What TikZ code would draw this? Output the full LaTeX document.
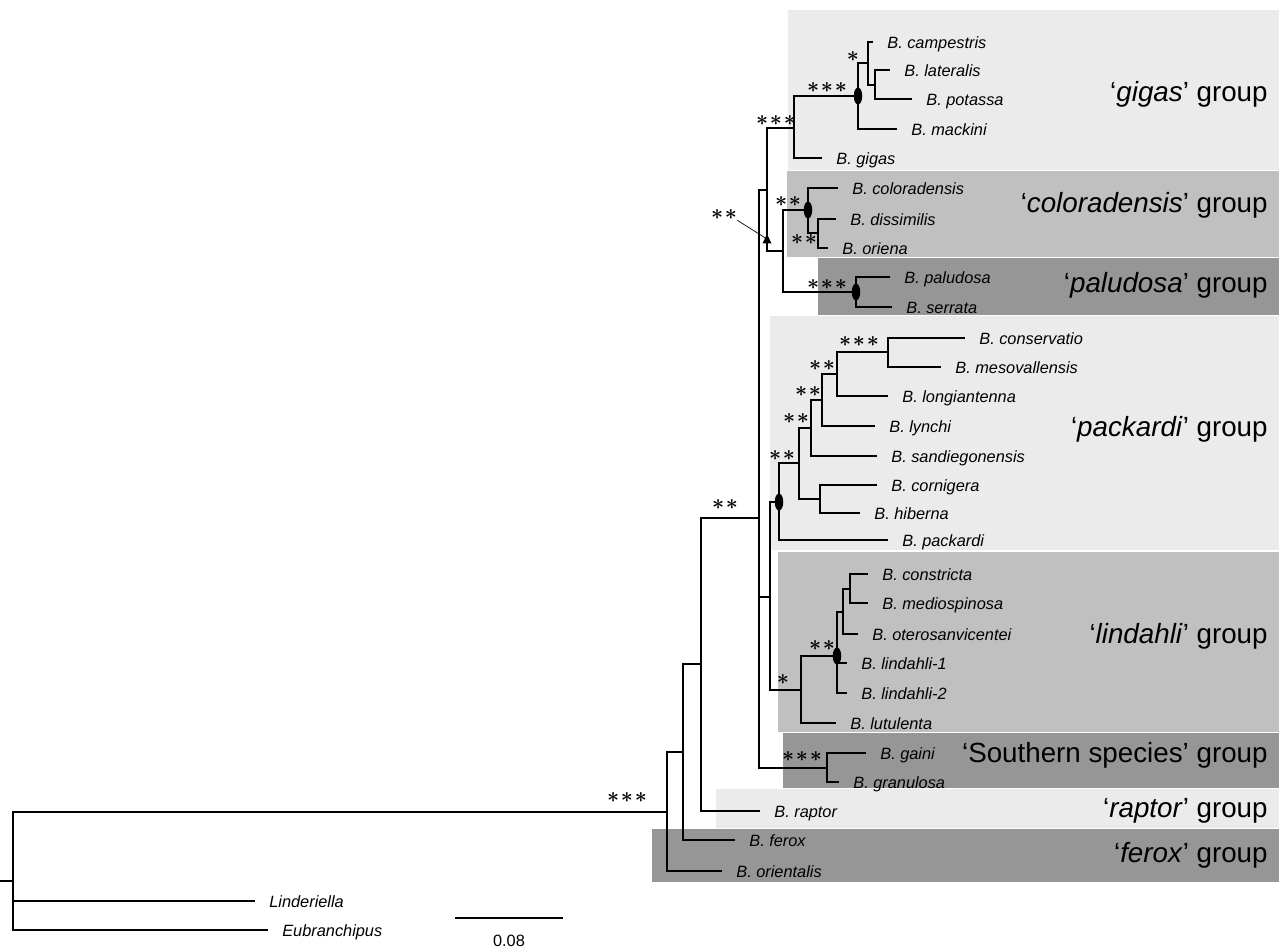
\documentclass[tikz,border=0pt]{standalone}
\usepackage{amsmath}
\usepackage{fontspec}
\setmainfont{Liberation Sans}
\usepackage{tikz}
\usetikzlibrary{shapes.geometric}
\definecolor{grpA}{HTML}{EBEBEB}
\definecolor{grpB}{HTML}{C0C0C0}
\definecolor{grpC}{HTML}{969696}
\newcommand{\bast}{{\boldsymbol{\ast}}}
\newcommand{\sigstar}[1]{\ifcase#1\or$\bast$\or$\bast\mkern1.5mu\bast$\or$\bast\mkern1.5mu\bast\mkern1.5mu\bast$\fi}
\tikzset{
    tax/.style={anchor=west, inner xsep=0.28cm, inner ysep=0pt,
      font=\fontsize{9.3}{10}\selectfont\itshape, text height=0.9em, text depth=0.18em},
    grp/.style={anchor=base east, inner sep=0pt, font=\fontsize{15.8}{19}\selectfont},
    sup/.style={inner sep=0pt, font=\fontsize{11.5}{12}\selectfont},
    dot/.style={ellipse, fill=black, inner sep=0pt, minimum width=0.17cm, minimum height=0.34cm},
    br/.style={line width=0.7pt},
}

\begin{document}
\begin{tikzpicture}[x=0.02cm, y=-0.02cm]
    \useasboundingbox (0,0) rectangle (1279,949);
    % group backgrounds
    \fill[grpA] (788,10) rectangle (1279,170);
    \fill[grpB] (787,171) rectangle (1279,257);
    \fill[grpC] (818,258) rectangle (1279,315);
    \fill[grpA] (770,316) rectangle (1279,550);
    \fill[grpB] (778,552) rectangle (1279,732);
    \fill[grpC] (783,733) rectangle (1279,788);
    \fill[grpA] (716,789) rectangle (1279,828);
    \fill[grpC] (652,829) rectangle (1279,882);

    \node[grp] (gGig) at (1268,102) {‘\textit{gigas}’ group};
    \node[grp] (gCol) at (1268,213) {‘\textit{coloradensis}’ group};
    \node[grp] (gPal) at (1268,293) {‘\textit{paludosa}’ group};
    \node[grp] (gPac) at (1268,437) {‘\textit{packardi}’ group};
    \node[grp] (gLin) at (1268,643) {‘\textit{lindahli}’ group};
    \node[grp] (gSou) at (1268,763) {‘Southern species’ group};
    \node[grp] (gRap) at (1268,817) {‘\textit{raptor}’ group};
    \node[grp] (gFer) at (1268,862) {‘\textit{ferox}’ group};

    % inner nodes
    \coordinate (stub) at (0,881);
    \coordinate (root) at (13,881);
    \coordinate (ing) at (667,812);
    \coordinate (fx) at (683,752);
    \coordinate (rp) at (701,664);
    \coordinate (cen) at (759,518);
    \coordinate (up) at (767,190);
    \coordinate (gg) at (794,128);
    \coordinate (gg1) at (858,96);
    \coordinate (gg2) at (868,63);
    \coordinate (gg3) at (875,85);
    \coordinate (cp) at (783,251);
    \coordinate (co) at (808,210);
    \coordinate (co1) at (818,233);
    \coordinate (pa) at (856,292);
    \coordinate (pk) at (770,597);
    \coordinate (pk1) at (779,502);
    \coordinate (pk2) at (799,463);
    \coordinate (pk3) at (811,428);
    \coordinate (pk4) at (822,400);
    \coordinate (pk5) at (837,374);
    \coordinate (pk6) at (888,352);
    \coordinate (pk7) at (820,499);
    \coordinate (li) at (801,690);
    \coordinate (li1) at (837,656);
    \coordinate (li2) at (843,612);
    \coordinate (li3) at (850,589);
    \coordinate (so) at (827,768);

    % taxa
    \node[tax] (camp) at (873,42) {B. campestris};
    \node[tax] (late) at (890,70) {B. lateralis};
    \node[tax] (pota) at (912,99) {B. potassa};
    \node[tax] (mack) at (897,129) {B. mackini};
    \node[tax] (giga) at (822,158) {B. gigas};
    \node[tax] (colo) at (838,188) {B. coloradensis};
    \node[tax] (diss) at (836,219) {B. dissimilis};
    \node[tax] (orie) at (828,248) {B. oriena};
    \node[tax] (palu) at (890,277) {B. paludosa};
    \node[tax] (serr) at (892,307) {B. serrata};
    \node[tax] (cons) at (965,338) {B. conservatio};
    \node[tax] (meso) at (941,367) {B. mesovallensis};
    \node[tax] (long) at (888,396) {B. longiantenna};
    \node[tax] (lync) at (875,426) {B. lynchi};
    \node[tax] (sand) at (877,456) {B. sandiegonensis};
    \node[tax] (corn) at (877,485) {B. cornigera};
    \node[tax] (hibe) at (860,513) {B. hiberna};
    \node[tax] (pack) at (888,540) {B. packardi};
    \node[tax] (cstr) at (868,574) {B. constricta};
    \node[tax] (medi) at (868,603) {B. mediospinosa};
    \node[tax] (oter) at (858,634) {B. oterosanvicentei};
    \node[tax] (lin1) at (847,663) {B. lindahli-1};
    \node[tax] (lin2) at (847,693) {B. lindahli-2};
    \node[tax] (lutu) at (836,723) {B. lutulenta};
    \node[tax] (gain) at (866,753) {B. gaini};
    \node[tax] (gran) at (839,782) {B. granulosa};
    \node[tax] (rapt) at (760,811) {B. raptor};
    \node[tax] (fero) at (735,840) {B. ferox};
    \node[tax] (orin) at (722,871) {B. orientalis};
    \node[tax] (lind) at (255,901) {Linderiella};
    \node[tax] (eubr) at (268,930) {Eubranchipus};

    % branches
    \draw[br] (stub) -- (root);
    \foreach \p/\c in {root/ing, ing/fx, fx/rp, rp/cen, cen/up, cen/pk, cen/so,
      up/gg, up/cp, gg/gg1, gg1/gg2, gg2/gg3, cp/co, cp/pa, co/co1,
      pk/pk1, pk/li, pk1/pk2, pk2/pk3, pk2/pk7, pk3/pk4, pk4/pk5, pk5/pk6,
      li/li1, li1/li2, li2/li3}
      \draw[br] (\p) |- (\c);
    \foreach \p/\c in {gg2/camp, gg3/late, gg3/pota, gg1/mack, gg/giga,
      co/colo, co1/diss, co1/orie, pa/palu, pa/serr,
      pk6/cons, pk6/meso, pk5/long, pk4/lync, pk3/sand, pk7/corn, pk7/hibe, pk1/pack,
      li3/cstr, li3/medi, li2/oter, li1/lin1, li1/lin2, li/lutu,
      so/gain, so/gran, rp/rapt, fx/fero, ing/orin, root/lind, root/eubr}
      \draw[br] (\p) |- (\c.west);

    % markers
    \foreach \n in {gg1, co, pa, pk1, li1}
      \node[dot] at (\n) {};
    \coordinate (tri) at (767,239);
    \fill ([shift={(0,-5)}]tri) -- ([shift={(-4.5,4.5)}]tri) -- ([shift={(4.5,4.5)}]tri) -- cycle;

    % support values
    \node[sup] (sCamp) at (853,57) {\sigstar1};
    \node[sup] (sGg1) at (827,88) {\sigstar3};
    \node[sup] (sGg) at (776,121) {\sigstar3};
    \node[sup] (sCo) at (788,202) {\sigstar2};
    \node[sup] (sCo1) at (804,240) {\sigstar2};
    \node[sup] (sUp) at (724,215) {\sigstar2};
    \node[sup] (sPa) at (827,285) {\sigstar3};
    \node[sup] (sPk6) at (859,342) {\sigstar3};
    \node[sup] (sPk5) at (822,366) {\sigstar2};
    \node[sup] (sPk4) at (808,392) {\sigstar2};
    \node[sup] (sPk3) at (796,419) {\sigstar2};
    \node[sup] (sPk2) at (782,456) {\sigstar2};
    \node[sup] (sLi1) at (822,646) {\sigstar2};
    \node[sup] (sLi) at (783,680) {\sigstar1};
    \node[sup] (sSo) at (802,757) {\sigstar3};
    \node[sup] (sCen) at (725,505) {\sigstar2};
    \node[sup] (sIng) at (627,798) {\sigstar3};
    \draw[line width=0.4pt] (sUp.south east) -- (tri);

    % scale
    \coordinate (sb1) at (455,918);
    \coordinate (sb2) at (563,918);
    \draw[br] (sb1) -- (sb2);
    \node[font=\fontsize{9.3}{10}\selectfont] (sbl) at (509,941) {0.08};
\end{tikzpicture}
\end{document}
